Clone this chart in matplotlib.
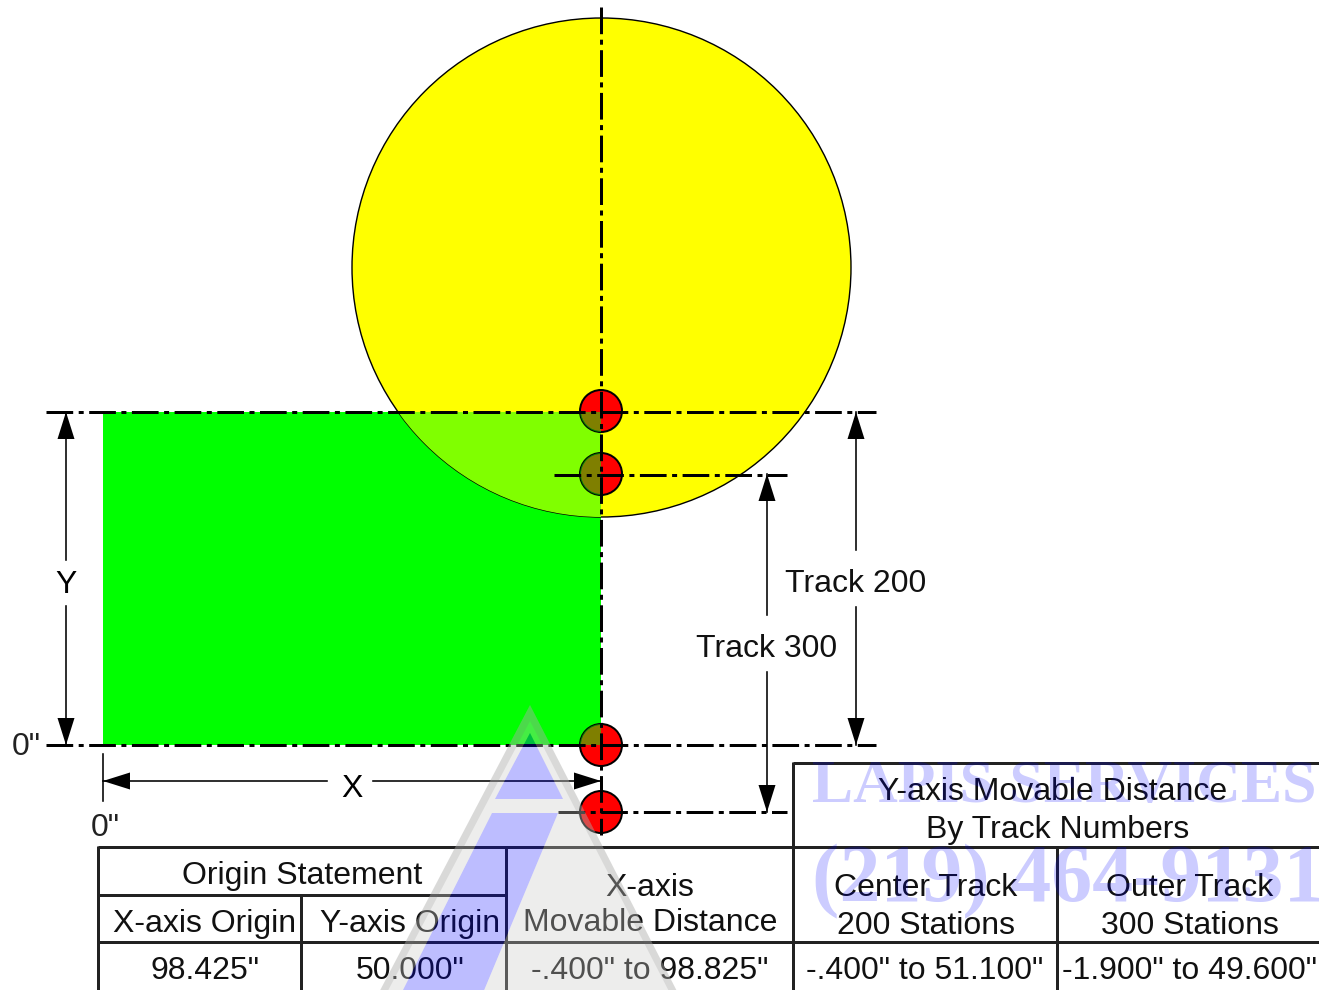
import matplotlib
matplotlib.use('Agg')
import matplotlib.pyplot as plt
from matplotlib.patches import Circle, Rectangle, Polygon, PathPatch
from matplotlib.path import Path

plt.rcParams['font.family'] = ['Liberation Sans', 'DejaVu Sans']
plt.rcParams['lines.scale_dashes'] = False

# table text: label, centre x, centre y (pixel layout of the drawing)
table_labels = ['Origin Statement', 'X-axis Origin', 'Y-axis Origin', '98.425"', '50.000"',
                'X-axis', 'Movable Distance', '-.400" to 98.825"',
                'Y-axis Movable Distance', 'By Track Numbers',
                'Center Track', '200 Stations', '-.400" to 51.100"',
                'Outer Track', '300 Stations', '-1.900" to 49.600"']
table_x = [302, 205, 410, 205, 410, 650, 650, 650, 1053, 1058, 926, 926, 925, 1190, 1190, 1189]
table_y = [873, 921, 921, 968, 968, 885, 920, 968, 789, 827, 885, 923, 968, 885, 923, 968]

track_names = ['Track 200', 'Track 300']
track_x = [856, 767]
track_top = [412, 474]
track_bottom = [745, 812]
track_label_y = [581, 646]

hole_y = [411, 474, 745, 812]
hole_r = 21

PX = 72 / 100  # points per pixel at dpi 100
LINE = '#222222'
FS = 23.05
TEXT_DY = 3

fig = plt.figure(figsize=(13.19, 9.9), dpi=100)
ax = fig.add_axes([0, 0, 1, 1])
ax.set_xlim(0, 1319)
ax.set_ylim(990, 0)
ax.axis('off')

# part and table
rect_xy, rect_w, rect_h = (103, 412), 498, 333
ax.add_patch(Rectangle(rect_xy, rect_w, rect_h, fc='#00ff00', ec='none', zorder=1))
table = Circle((601.5, 267.5), 249.5, fc='#ffff00', ec='black', lw=1.4 * PX, zorder=2)
ax.add_patch(table)
overlap = Rectangle(rect_xy, rect_w, rect_h, fc='#80ff00', ec='none', zorder=3)
ax.add_patch(overlap)
overlap.set_clip_path(table)

for y in hole_y:
    hole = Circle((601, y), hole_r, fc='#ff0000', ec='black', lw=2 * PX, zorder=4)
    ax.add_patch(hole)
    shade = Rectangle(rect_xy, rect_w, rect_h, fc='#00ff00', alpha=0.5, ec='none', zorder=5)
    ax.add_patch(shade)
    shade.set_clip_path(hole)

# centre lines
dash = (0, (26.7 * PX, 5.5 * PX, 5 * PX, 5.5 * PX))


def centre_line(xs, ys):
    ax.plot(xs, ys, color='black', lw=3 * PX, ls=dash, zorder=6, dash_capstyle='butt')


centre_line([46, 876], [412, 412])
centre_line([46, 876], [745, 745])
centre_line([554, 787], [474.5, 474.5])
centre_line([558, 787], [812, 812])
centre_line([601, 601], [7.3, 835])


def arrow_head(tip, back):
    # black triangle pointing from back to tip
    dx, dy = tip[0] - back[0], tip[1] - back[1]
    size = (dx ** 2 + dy ** 2) ** 0.5
    nx, ny = -dy / size * 8.5, dx / size * 8.5
    ax.add_patch(Polygon([tip, (back[0] + nx, back[1] + ny), (back[0] - nx, back[1] - ny)],
                         fc='black', ec='none', zorder=7))


def dim_line(p0, p1, gap0, gap1, vertical):
    if vertical:
        x = p0
        ax.plot([x, x], [p1[0], gap0], color='black', lw=1.6 * PX, zorder=6)
        ax.plot([x, x], [gap1, p1[1]], color='black', lw=1.6 * PX, zorder=6)
        arrow_head((x, p1[0]), (x, p1[0] + 27))
        arrow_head((x, p1[1]), (x, p1[1] - 27))
    else:
        y = p0
        ax.plot([p1[0], gap0], [y, y], color='black', lw=1.6 * PX, zorder=6)
        ax.plot([gap1, p1[1]], [y, y], color='black', lw=1.6 * PX, zorder=6)
        arrow_head((p1[0], y), (p1[0] + 27, y))
        arrow_head((p1[1], y), (p1[1] - 27, y))


dim_line(66, (412, 745), 560, 606, True)
ax.text(66, 582 + TEXT_DY, 'Y', ha='center', va='center', fontsize=FS, zorder=8)
dim_line(781, (103, 601), 327, 373, False)
ax.text(352, 786 + TEXT_DY, 'X', ha='center', va='center', fontsize=FS, zorder=8)
ax.plot([103, 103], [754, 801], color='black', lw=1.6 * PX, zorder=6)
ax.text(26, 744 + TEXT_DY, '0"', ha='center', va='center', fontsize=FS, color='#222222', zorder=8)
ax.text(105, 825 + TEXT_DY, '0"', ha='center', va='center', fontsize=FS, color='#222222', zorder=8)

for name, x, top, bottom, ly in zip(track_names, track_x, track_top, track_bottom, track_label_y):
    dim_line(x, (top, bottom), ly - 31, ly + 26, True)
    ax.text(x, ly + TEXT_DY, name, ha='center', va='center', fontsize=FS, color='#111111', zorder=8)

# table rules
rules = [
    ([98, 1319], [847, 847]), ([98, 506], [895, 895]), ([98, 1319], [942, 942]),
    ([793, 1319], [763, 763]), ([98, 98], [846, 990]), ([301, 301], [895, 990]),
    ([506, 506], [847, 990]), ([793, 793], [762, 990]), ([1057, 1057], [847, 990]),
]
for xs, ys in rules:
    ax.plot(xs, ys, color=LINE, lw=3 * PX, zorder=6, solid_capstyle='butt')
ax.plot([0, 1319], [989.5, 989.5], color='#dddddd', lw=1 * PX, zorder=1)

for label, x, y in zip(table_labels, table_x, table_y):
    ax.text(x, y + TEXT_DY, label, ha='center', va='center', fontsize=FS, color='#111111', zorder=8)

# watermark on top of everything: grey triangle with blue cut-outs
blue_top = [(530, 733), (563, 799), (495, 799)]
blue_band = [(492, 813), (558, 813), (480, 1000), (398, 1000)]
outer = [(530, 705), (702, 1040), (354, 1040)]
verts, codes = [], []
for poly in (outer, blue_top[::-1], blue_band[::-1]):
    verts += poly + [poly[0]]
    codes += [Path.MOVETO] + [Path.LINETO] * (len(poly) - 1) + [Path.CLOSEPOLY]
ax.add_patch(PathPatch(Path(verts, codes), fc=(0.8, 0.8, 0.79, 0.34), ec='none', zorder=10))
ax.add_patch(Polygon(blue_top, fc=(0, 0, 1, 0.26), ec='none', zorder=10))
ax.add_patch(Polygon(blue_band, fc=(0, 0, 1, 0.26), ec='none', zorder=10))
ax.add_patch(Polygon([(530, 705), (702, 1040), (694, 1040), (530, 721), (362, 1040), (354, 1040)],
                     fc=(0.45, 0.45, 0.45, 0.16), ec='none', zorder=10))
ax.text(812, 787, 'LAPIS SERVICES', family='Liberation Serif', fontweight='bold', fontsize=44.5,
        color=(0, 0, 1, 0.2), ha='left', va='center', zorder=10, clip_on=True)
ax.text(812, 882, '(219) 464-9131', family='Liberation Serif', fontweight='bold', fontsize=59,
        color=(0, 0, 1, 0.2), ha='left', va='center', zorder=10, clip_on=True)

fig.savefig('out.png', dpi=100)
